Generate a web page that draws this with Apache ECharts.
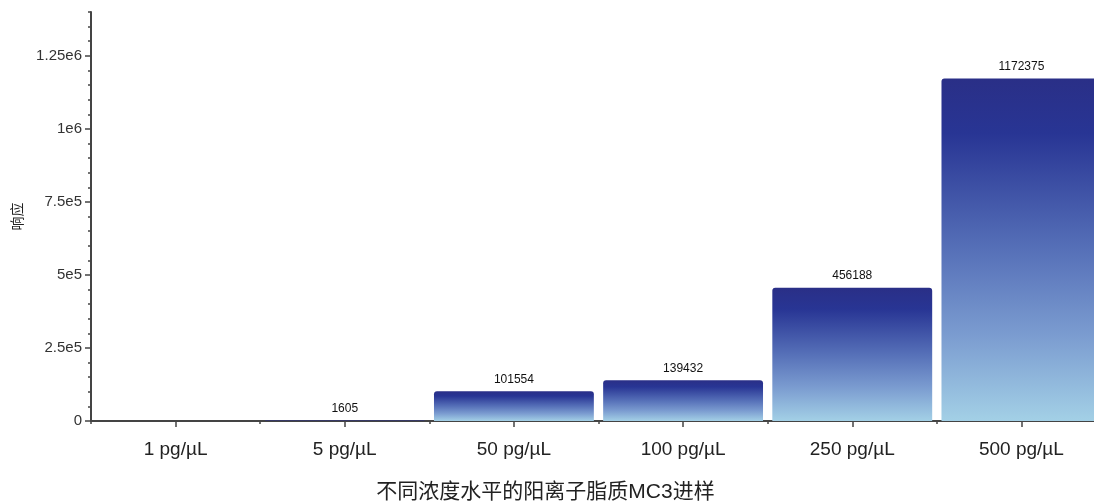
<!DOCTYPE html>
<html>
<head>
<meta charset="utf-8">
<script src="https://cdn.jsdelivr.net/npm/echarts@6/dist/echarts.min.js"></script>
<style>
html,body{margin:0;padding:0;background:#fff;}
#chart{width:1094px;height:501px;}
</style>
</head>
<body>
<div id="chart"></div>
<script>
const categories = ['1 pg/\u00b5L', '5 pg/\u00b5L', '50 pg/\u00b5L', '100 pg/\u00b5L', '250 pg/\u00b5L', '500 pg/\u00b5L'];
const responses = [0, 1605, 101554, 139432, 456188, 1172375];
const yTickValues = [0, 250000, 500000, 750000, 1000000, 1250000];
const yTickLabels = ['0', '2.5e5', '5e5', '7.5e5', '1e6', '1.25e6'];
const yMax = 1400000;
const yMinorStep = 50000;
const xTitle = '不同浓度水平的阳离子脂质MC3进样';
const yTitle = '响应';

const FONT = '"Liberation Sans", Arial, "Noto Sans CJK SC", sans-serif';
const axisColor = '#444';

const chart = echarts.init(document.getElementById('chart'), null, {renderer: 'canvas'});
chart.setOption({
  animation: false,
  backgroundColor: '#fff',
  grid: {left: 91, top: 12, bottom: 80, right: -12, containLabel: false, outerBoundsMode: 'none'},
  xAxis: [{
    type: 'category',
    data: categories,
    position: 'bottom',
    axisLine: {show: true, lineStyle: {color: axisColor, width: 2}},
    axisTick: {show: true, length: 3, lineStyle: {color: axisColor, width: 1.5}},
    axisLabel: {show: true, color: '#222', fontSize: 19, fontFamily: FONT, margin: 19},
    name: xTitle,
    nameLocation: 'middle',
    nameGap: 61,
    nameTextStyle: {color: '#222', fontSize: 21, fontFamily: FONT, padding: [0, 106, 0, 0]}
  }, {
    type: 'category',
    data: categories,
    position: 'bottom',
    axisLine: {show: false},
    axisTick: {show: true, alignWithLabel: true, length: 6, lineStyle: {color: axisColor, width: 1.5}},
    axisLabel: {show: false},
    splitLine: {show: false}
  }],
  yAxis: [{
    type: 'value',
    min: 0,
    max: yMax,
    interval: 250000,
    axisLine: {show: true, lineStyle: {color: axisColor, width: 2}},
    axisTick: {show: true, length: 6, customValues: yTickValues, lineStyle: {color: axisColor, width: 1.5}},
    axisLabel: {
      show: true, color: '#333', fontSize: 15, fontFamily: FONT, margin: 9,
      customValues: yTickValues,
      formatter: function (v) {
        const i = yTickValues.indexOf(v);
        return i >= 0 ? yTickLabels[i] : '';
      }
    },
    splitLine: {show: false},
    name: yTitle,
    nameLocation: 'middle',
    nameGap: 66,
    nameTextStyle: {color: '#222', fontSize: 14, fontFamily: FONT}
  }, {
    type: 'value',
    position: 'left',
    min: 0,
    max: yMax,
    interval: yMinorStep,
    axisLine: {show: false},
    axisTick: {show: true, length: 3, lineStyle: {color: axisColor, width: 1.5}},
    axisLabel: {show: false},
    splitLine: {show: false}
  }],
  series: [{
    type: 'bar',
    data: responses,
    xAxisIndex: 0,
    yAxisIndex: 0,
    barCategoryGap: '5.5%',
    itemStyle: {
      borderRadius: [3, 3, 0, 0],
      color: new echarts.graphic.LinearGradient(0, 0, 0, 1, [
        {offset: 0, color: '#2a2f87'},
        {offset: 0.16, color: '#283594'},
        {offset: 0.5, color: '#5670b8'},
        {offset: 0.75, color: '#7b9cd0'},
        {offset: 1, color: '#a3d0e6'}
      ])
    },
    label: {
      show: true,
      position: 'top',
      distance: 6,
      color: '#111',
      fontSize: 12,
      fontFamily: FONT,
      formatter: function (p) { return p.value > 0 ? String(p.value) : ''; }
    }
  }]
});
</script>
</body>
</html>
